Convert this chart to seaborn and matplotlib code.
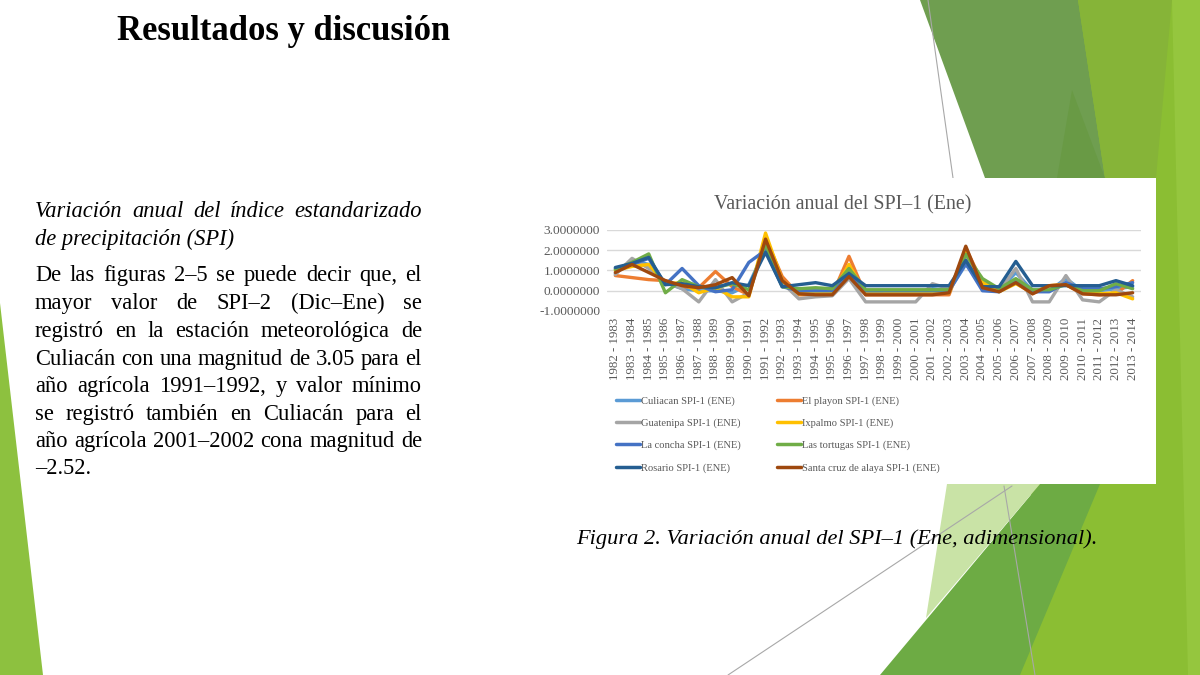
import matplotlib
matplotlib.use('Agg')
import matplotlib.pyplot as plt
from matplotlib.patches import Polygon, Rectangle
from matplotlib.lines import Line2D
from matplotlib.font_manager import FontProperties
from matplotlib.ticker import FormatStrFormatter
import pandas as pd
import seaborn as sns


# SPI-1 (Ene) por estacion, años agricolas 1982-1983 ... 2013-2014
years = list(range(1982, 2014))
periods = [f"{y} - {y + 1}" for y in years]

culiacan = [0.85, 1.50, 1.30, 0.40, 0.10, 0.00, 0.00, -0.10, 0.30, 2.10, 0.30, -0.10, -0.10, -0.10, 1.00, -0.10,
            -0.10, -0.10, -0.10, 0.10, 0.00, 1.30, 0.30, 0.00, 0.90, 0.00, 0.00, 0.60, 0.00, 0.00, 0.10, 0.20]
el_playon = [0.75, 0.65, 0.55, 0.50, 0.20, 0.15, 0.95, 0.20, -0.20, 2.60, 0.70, -0.20, -0.20, -0.20, 1.70, -0.20,
             -0.20, -0.20, -0.20, -0.20, -0.20, 2.10, 0.40, 0.00, 0.40, -0.15, 0.25, 0.30, -0.15, -0.20, -0.15, 0.50]
guatenipa = [0.80, 1.60, 1.10, 0.45, 0.10, -0.55, 0.55, -0.55, -0.10, 2.20, 0.40, -0.40, -0.30, -0.25, 0.60, -0.55,
             -0.55, -0.55, -0.55, 0.35, 0.10, 1.60, 0.50, 0.00, 1.10, -0.55, -0.55, 0.75, -0.45, -0.55, 0.05, -0.30]
ixpalmo = [1.00, 1.20, 1.30, 0.35, 0.40, -0.10, 0.15, -0.30, -0.30, 2.85, 0.50, -0.15, -0.10, -0.10, 1.30, -0.15,
           -0.15, -0.10, -0.10, -0.10, -0.10, 1.90, 0.40, -0.05, 0.35, -0.10, 0.25, 0.30, -0.10, -0.15, -0.10, -0.40]
la_concha = [1.10, 1.30, 1.60, 0.30, 1.10, 0.25, -0.05, 0.05, 1.40, 2.00, 0.20, 0.00, 0.00, 0.00, 0.90, 0.00,
             0.00, 0.00, 0.00, 0.00, 0.00, 1.35, 0.00, -0.05, 0.50, -0.05, -0.05, 0.40, 0.10, 0.10, 0.20, 0.40]
las_tortugas = [1.05, 1.40, 1.82, -0.10, 0.55, 0.20, 0.15, 0.35, 0.05, 2.30, 0.20, 0.10, 0.15, 0.10, 1.10, 0.05,
                0.05, 0.05, 0.05, 0.05, 0.05, 1.80, 0.60, 0.10, 0.60, 0.05, 0.05, 0.30, 0.00, 0.00, 0.35, 0.10]
rosario = [1.15, 1.35, 1.65, 0.30, 0.35, 0.20, 0.15, 0.40, 0.25, 1.90, 0.20, 0.30, 0.40, 0.25, 0.85, 0.25,
           0.25, 0.25, 0.25, 0.25, 0.25, 1.50, 0.20, 0.20, 1.45, 0.25, 0.25, 0.25, 0.25, 0.25, 0.50, 0.25]
santa_cruz = [0.90, 1.30, 0.90, 0.50, 0.25, 0.15, 0.30, 0.65, -0.25, 2.55, 0.50, -0.15, -0.20, -0.20, 0.70, -0.20,
              -0.20, -0.20, -0.20, -0.20, -0.10, 2.20, 0.15, -0.05, 0.40, -0.15, 0.25, 0.30, -0.15, -0.20, -0.20, -0.10]

stations = ["Culiacan SPI-1 (ENE)", "El playon SPI-1 (ENE)", "Guatenipa SPI-1 (ENE)", "Ixpalmo SPI-1 (ENE)",
            "La concha SPI-1 (ENE)", "Las tortugas SPI-1 (ENE)", "Rosario SPI-1 (ENE)",
            "Santa cruz de alaya SPI-1 (ENE)"]
series = [culiacan, el_playon, guatenipa, ixpalmo, la_concha, las_tortugas, rosario, santa_cruz]
colors = ["#5B9BD5", "#ED7D31", "#A5A5A5", "#FFC000", "#4472C4", "#70AD47", "#255E91", "#9E480E"]

title = "Resultados y discusión"
subtitle = ["Variación anual del índice estandarizado", "de precipitación (SPI)"]
paragraph = ["De las figuras 2–5 se puede decir que, el",
             "mayor valor de SPI–2 (Dic–Ene) se",
             "registró en la estación meteorológica de",
             "Culiacán con una magnitud de 3.05 para el",
             "año agrícola 1991–1992, y valor mínimo",
             "se registró también en Culiacán para el",
             "año agrícola 2001–2002 cona magnitud de",
             "–2.52."]
chart_title = "Variación anual del SPI–1 (Ene)"
caption = "Figura 2. Variación anual del SPI–1 (Ene, adimensional)."

sns.set_theme(style="white")
plt.rcParams['font.family'] = ['Liberation Serif', 'DejaVu Serif']

W, H = 1200, 675
fig = plt.figure(figsize=(12, 6.75), dpi=100)
fig.patch.set_facecolor('white')
renderer = fig.canvas.get_renderer()


def fx(x):
    return x / W


def fy(y):
    return 1 - y / H


def shape(pts, color, z=-3):
    fig.add_artist(Polygon([(fx(x), fy(y)) for x, y in pts], closed=True, transform=fig.transFigure,
                           facecolor=color, edgecolor='none', zorder=z))


def thin_line(p0, p1):
    fig.add_artist(Line2D([fx(p0[0]), fx(p1[0])], [fy(p0[1]), fy(p1[1])], transform=fig.transFigure,
                          color='#A8A8A8', linewidth=0.8, zorder=-2))


# slide decoration (green facets)
shape([(0, 303), (43, 675), (0, 675)], '#8DC13F')
shape([(1075, 0), (1200, 0), (1200, 675), (1015, 675)], '#8BBE33')
shape([(1172, 0), (1200, 0), (1200, 675), (1188, 675)], '#95C63E')
shape([(920, 0), (1078, 0), (1105, 178), (985, 178)], '#6F9E50')
shape([(1072, 90), (1105, 178), (1057, 178)], '#699A45')
shape([(1078, 0), (1172, 0), (1156, 178), (1105, 178)], '#86B438')
shape([(880, 675), (1040, 484), (1100, 484), (1020, 675)], '#6DAB44')
shape([(947, 484), (1040, 484), (926, 618)], '#C9E3A6')
thin_line((928, 0), (953, 178))
thin_line((1012, 486), (728, 675))
thin_line((1004, 486), (1035, 675))

# white chart box
fig.add_artist(Rectangle((fx(505), fy(484)), (1156 - 505) / W, (484 - 178) / H, transform=fig.transFigure,
                         facecolor='white', edgecolor='none', zorder=-1))


def text_width(s, fp):
    w, h, d = renderer.get_text_width_height_descent(s, fp, ismath=False)
    return w


def fit(text, target, weight='normal', style='normal'):
    fp = FontProperties(family='Liberation Serif', size=20, weight=weight, style=style)
    return 20 * target / text_width(text, fp)


def justify(line, x0, x1, y, fp, last=False):
    words = line.split(' ')
    if last or len(words) == 1:
        fig.text(fx(x0), fy(y), line, fontproperties=fp, va='baseline', ha='left', color='black')
        return
    widths = [text_width(w, fp) for w in words]
    gap = (x1 - x0 - sum(widths)) / (len(words) - 1)
    x = x0
    for w, wd in zip(words, widths):
        fig.text(fx(x), fy(y), w, fontproperties=fp, va='baseline', ha='left', color='black')
        x += wd + gap


# slide texts
fp_title = FontProperties(family='Liberation Serif', weight='bold', size=fit(title, 333, weight='bold'))
fig.text(fx(117), fy(40), title, fontproperties=fp_title, va='baseline', ha='left', color='black')

body_size = fit(paragraph[3], 386)
fp_body = FontProperties(family='Liberation Serif', size=body_size)
fp_ital = FontProperties(family='Liberation Serif', size=body_size, style='italic')

justify(subtitle[0], 35, 422, 217, fp_ital)
justify(subtitle[1], 35, 422, 245, fp_ital, last=True)
base = [281, 309, 337, 365, 392, 420, 447, 474]
for k, (line, yb) in enumerate(zip(paragraph, base)):
    justify(line, 35, 422, yb, fp_body, last=(k == len(paragraph) - 1))

fp_cap = FontProperties(family='Liberation Serif', style='italic', size=fit(caption, 521, style='italic'))
fig.text(fx(576), fy(544), caption, fontproperties=fp_cap, va='baseline', ha='left', color='black')

fp_ct = FontProperties(family='Liberation Serif', size=fit(chart_title, 258))
fig.text(fx(843), fy(209), chart_title, fontproperties=fp_ct, va='baseline', ha='center', color='#595959')

# chart
df = pd.DataFrame({
    'Periodo': periods * len(stations),
    'SPI': [v for s in series for v in s],
    'Estacion': [name for name in stations for _ in periods],
})

ax = fig.add_axes([fx(607), fy(311), (1141 - 607) / W, (311 - 230) / H])
ax.set_facecolor('none')
sns.lineplot(data=df, x='Periodo', y='SPI', hue='Estacion', hue_order=stations,
             palette=dict(zip(stations, colors)), sort=False, errorbar=None,
             linewidth=2.4, legend=False, ax=ax)
ax.set_xlim(-0.5, len(periods) - 0.5)
ax.set_ylim(-1, 3)
ax.set_yticks([-1, 0, 1, 2, 3])
ax.yaxis.set_major_formatter(FormatStrFormatter('%.7f'))
ax.set_xticks(range(len(periods)))
ax.set_xticklabels(periods, rotation=90)
ax.tick_params(axis='y', length=0, labelsize=9.6, labelcolor='#595959', pad=5)
ax.tick_params(axis='x', length=0, labelsize=9.3, labelcolor='#595959', pad=5)
ax.set_xlabel('')
ax.set_ylabel('')
ax.grid(axis='y', color='#D9D9D9', linewidth=1)
ax.grid(axis='x', visible=False)
for sp in ax.spines.values():
    sp.set_visible(False)

handles = [Line2D([0], [0], color=c, linewidth=2.5) for c in colors]
order = [0, 2, 4, 6, 1, 3, 5, 7]
fig.legend([handles[i] for i in order], [stations[i] for i in order],
           loc='upper left', bbox_to_anchor=(fx(616), fy(396)), bbox_transform=fig.transFigure,
           ncol=2, frameon=False, fontsize=7.6, labelcolor='#595959',
           handlelength=2.3, handletextpad=0.1, columnspacing=3.4, labelspacing=1.2,
           borderpad=0, borderaxespad=0)

fig.savefig('out.png', dpi=100)
